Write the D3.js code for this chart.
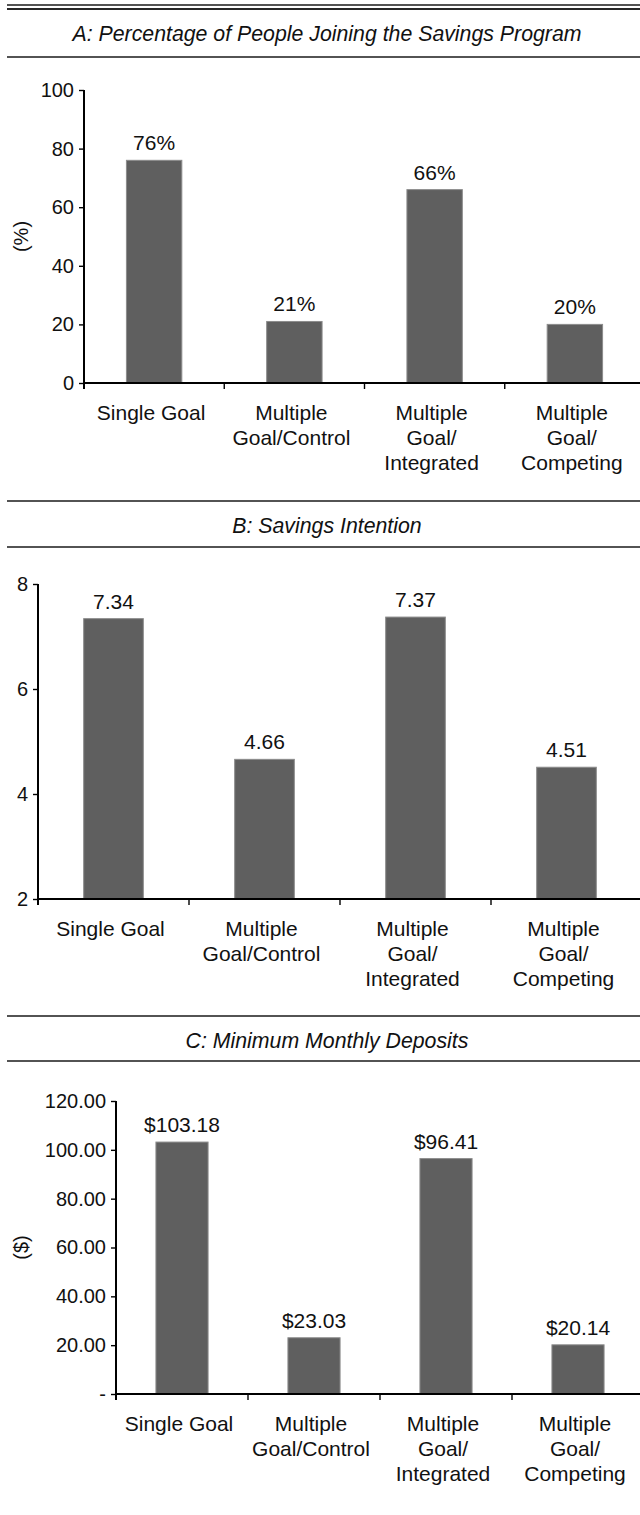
<!DOCTYPE html>
<html>
<head>
<meta charset="utf-8">
<script src="https://cdn.jsdelivr.net/npm/d3@7"></script>
<style>
  html, body { margin: 0; padding: 0; background: #fff; }
  svg { display: block; }
  text { font-family: "Liberation Sans", Arial, Helvetica, sans-serif; fill: #111; }
</style>
</head>
<body>
<svg id="chart" width="640" height="1515"></svg>
<script>
// Conditions shown on every panel (line breaks as printed under the axis)
const categories = [
  "Single Goal",
  "Multiple\nGoal/Control",
  "Multiple\nGoal/\nIntegrated",
  "Multiple\nGoal/\nCompeting"
];

// Panel A: share of people joining the savings program (%)
const joinPct = [76, 21, 66, 20];
const joinLabels = ["76%", "21%", "66%", "20%"];
const joinTicks = [0, 20, 40, 60, 80, 100];

// Panel B: savings intention
const intention = [7.34, 4.66, 7.37, 4.51];
const intentionLabels = ["7.34", "4.66", "7.37", "4.51"];
const intentionTicks = [2, 4, 6, 8];

// Panel C: minimum monthly deposits ($)
const deposits = [103.18, 23.03, 96.41, 20.14];
const depositLabels = ["$103.18", "$23.03", "$96.41", "$20.14"];
const depositTicks = [0, 20, 40, 60, 80, 100, 120];
const depositTickLabels = ["-", "20.00", "40.00", "60.00", "80.00", "100.00", "120.00"];

const svg = d3.select("#chart");
const W = 640;
const TICK_FONT = 20;
const LABEL_FONT = 21;
const BAR_FILL = "#5f5f5f";
const BAR_EDGE = "#8c8c8c";

function rule(y, w) {
  svg.append("line")
    .attr("x1", 7).attr("x2", W)
    .attr("y1", y).attr("y2", y)
    .attr("stroke", "#1a1a1a")
    .attr("stroke-width", w || 1.4);
}

function panelTitle(text, yTop, yBottom) {
  rule(yTop);
  rule(yBottom);
  svg.append("text")
    .attr("x", 327)
    .attr("y", yTop + 32)
    .attr("text-anchor", "middle")
    .attr("font-style", "italic")
    .attr("font-size", 21.3)
    .text(text);
}

function drawPanel(opt) {
  const g = svg.append("g");
  const x = d3.scaleBand()
    .domain(categories)
    .range([opt.x0, opt.x1])
    .padding(0);
  const step = x.step();
  const barW = step * 0.395;
  const y = d3.scaleLinear()
    .domain(opt.domain)
    .range([opt.yBottom, opt.yTop]);

  // bars
  g.selectAll("rect.bar")
    .data(opt.values)
    .join("rect")
    .attr("class", "bar")
    .attr("x", (d, i) => x(categories[i]) + (step - barW) / 2)
    .attr("width", barW)
    .attr("y", d => y(d))
    .attr("height", d => y(opt.domain[0]) - y(d))
    .attr("fill", BAR_FILL)
    .attr("stroke", BAR_EDGE)
    .attr("stroke-width", 1);

  // value labels
  g.selectAll("text.val")
    .data(opt.values)
    .join("text")
    .attr("class", "val")
    .attr("x", (d, i) => x(categories[i]) + step / 2)
    .attr("y", d => y(d) - 10)
    .attr("text-anchor", "middle")
    .attr("font-size", LABEL_FONT)
    .text((d, i) => opt.labels[i]);

  // y axis
  const yAxis = d3.axisLeft(y)
    .tickValues(opt.ticks)
    .tickSize(5)
    .tickPadding(5)
    .tickFormat((d, i) => opt.tickLabels ? opt.tickLabels[i] : d);
  const ya = g.append("g")
    .attr("transform", `translate(${opt.x0},0)`)
    .call(yAxis);
  ya.select(".domain").remove();
  ya.selectAll(".tick line").attr("stroke", "#000").attr("stroke-width", 1.4);
  ya.selectAll(".tick text")
    .attr("font-size", TICK_FONT)
    .attr("font-family", "Liberation Sans, Arial, sans-serif")
    .attr("fill", "#111");
  g.append("line")
    .attr("x1", opt.x0).attr("x2", opt.x0)
    .attr("y1", opt.yTop).attr("y2", opt.yBottom + 6)
    .attr("stroke", "#000").attr("stroke-width", 2);

  // x axis with ticks between categories
  g.append("line")
    .attr("x1", opt.x0).attr("x2", W)
    .attr("y1", opt.yBottom).attr("y2", opt.yBottom)
    .attr("stroke", "#000").attr("stroke-width", 2);
  g.selectAll("line.sep")
    .data(categories.slice(1))
    .join("line")
    .attr("class", "sep")
    .attr("x1", d => x(d)).attr("x2", d => x(d))
    .attr("y1", opt.yBottom).attr("y2", opt.yBottom + 6)
    .attr("stroke", "#000").attr("stroke-width", 1.4);

  // category labels
  const cl = g.selectAll("text.cat")
    .data(categories)
    .join("text")
    .attr("class", "cat")
    .attr("text-anchor", "middle")
    .attr("font-size", LABEL_FONT)
    .attr("y", opt.yBottom + 37);
  cl.selectAll("tspan")
    .data(d => d.split("\n").map(s => ({ s, c: d })))
    .join("tspan")
    .attr("x", d => x(d.c) + step / 2 - 3)
    .attr("dy", (d, i) => i === 0 ? 0 : 25)
    .text(d => d.s);

  // y axis title
  if (opt.yTitle) {
    g.append("text")
      .attr("transform", `translate(${opt.yTitleX},${(opt.yTop + opt.yBottom) / 2}) rotate(-90)`)
      .attr("text-anchor", "middle")
      .attr("dy", "0.35em")
      .attr("font-size", TICK_FONT)
      .text(opt.yTitle);
  }
}

// top double rule
rule(5, 1.4);
rule(9, 1.4);

// Panel A
panelTitle("A: Percentage of People Joining the Savings Program", 9, 57);
drawPanel({
  values: joinPct, labels: joinLabels, ticks: joinTicks,
  domain: [0, 100], x0: 84, x1: 645, yTop: 90, yBottom: 383,
  yTitle: "(%)", yTitleX: 21
});

// Panel B
panelTitle("B: Savings Intention", 501, 547);
drawPanel({
  values: intention, labels: intentionLabels, ticks: intentionTicks,
  domain: [2, 8], x0: 38, x1: 642, yTop: 584, yBottom: 899
});

// Panel C
panelTitle("C: Minimum Monthly Deposits", 1016, 1061);
drawPanel({
  values: deposits, labels: depositLabels, ticks: depositTicks,
  tickLabels: depositTickLabels,
  domain: [0, 120], x0: 116, x1: 644, yTop: 1101, yBottom: 1394,
  yTitle: "($)", yTitleX: 21
});
</script>
</body>
</html>
